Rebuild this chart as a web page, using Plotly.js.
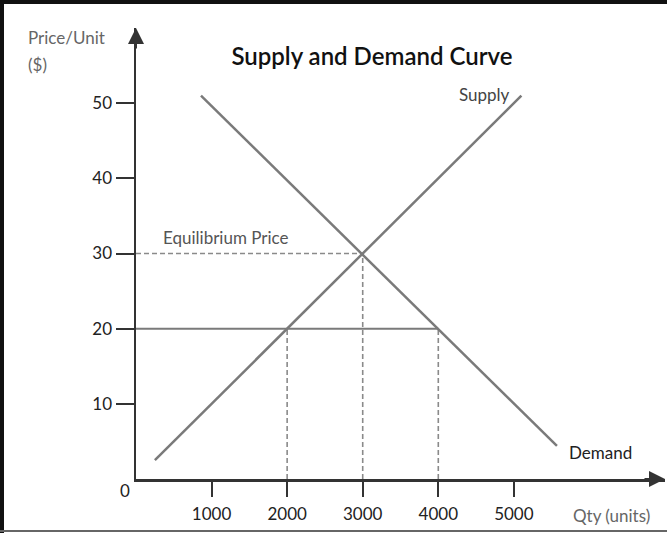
<!DOCTYPE html>
<html>
<head>
<meta charset="utf-8">
<script src="https://cdn.plot.ly/plotly-3.0.1.min.js"></script>
<style>
  html, body { margin: 0; padding: 0; background: #fff; }
  #wrap { position: relative; width: 667px; height: 533px; overflow: hidden; }
  #chart { width: 667px; height: 533px; }
  .edge { position: absolute; pointer-events: none; }
</style>
</head>
<body>
<div id="wrap">
  <div id="chart"></div>
  <div class="edge" style="left:0;top:0;width:667px;height:4px;background:#111;"></div>
  <div class="edge" style="left:0;top:0;width:4px;height:533px;background:#111;"></div>
  <div class="edge" style="left:0;top:530px;width:667px;height:2px;background:#666;"></div>
</div>
<script>
// ---- data ----
const supplyQty = [250, 5100];
const supplyPrice = [2.5, 51];
const demandQty = [860, 5570];
const demandPrice = [51, 4.4];
const eqQty = 3000;
const eqPrice = 30;
const lowPrice = 20;
const lowSupplyQty = 2000;
const lowDemandQty = 4000;
const xTicks = [1000, 2000, 3000, 4000, 5000];
const yTicks = [10, 20, 30, 40, 50];
const xMax = 7000;
const yMax = 60;

const lineGrey = '#7a7a7a';
const dashGrey = '#8a8a8a';
const axisCol = '#333';
const font = 'Lato, "Open Sans", sans-serif';

const traces = [
  // dashed guides
  { x: [0, eqQty], y: [eqPrice, eqPrice], mode: 'lines',
    line: { color: dashGrey, width: 1.6, dash: '5px,3px' }, hoverinfo: 'skip' },
  { x: [eqQty, eqQty], y: [0, eqPrice], mode: 'lines',
    line: { color: dashGrey, width: 1.6, dash: '5px,3px' }, hoverinfo: 'skip' },
  { x: [lowSupplyQty, lowSupplyQty], y: [0, lowPrice], mode: 'lines',
    line: { color: dashGrey, width: 1.6, dash: '5px,3px' }, hoverinfo: 'skip' },
  { x: [lowDemandQty, lowDemandQty], y: [0, lowPrice], mode: 'lines',
    line: { color: dashGrey, width: 1.6, dash: '5px,3px' }, hoverinfo: 'skip' },
  // solid price line at 20
  { x: [0, lowDemandQty], y: [lowPrice, lowPrice], mode: 'lines',
    line: { color: lineGrey, width: 2 }, hoverinfo: 'skip' },
  // supply and demand
  { x: supplyQty, y: supplyPrice, mode: 'lines', name: 'Supply',
    line: { color: lineGrey, width: 2.5 } },
  { x: demandQty, y: demandPrice, mode: 'lines', name: 'Demand',
    line: { color: lineGrey, width: 2.5 } }
];

const layout = {
  width: 667, height: 533,
  margin: { l: 136, r: 2, t: 28, b: 54 },
  paper_bgcolor: '#fff', plot_bgcolor: '#fff',
  showlegend: false,
  font: { family: font, size: 17, color: '#222' },
  title: {
    text: 'Supply and Demand Curve',
    font: { family: font, size: 24, color: '#111', weight: 600 },
    xref: 'paper', x: 0.446, xanchor: 'center',
    yref: 'container', y: 0.893, yanchor: 'middle'
  },
  xaxis: {
    range: [0, xMax], showgrid: false, zeroline: false,
    showline: true, linecolor: axisCol, linewidth: 2.5,
    tickmode: 'array', tickvals: xTicks, ticktext: xTicks.map(String),
    ticks: 'outside', ticklen: 15, tickwidth: 2, tickcolor: axisCol,
    ticklabelstandoff: 3,
    tickfont: { family: font, size: 17, color: '#222' },
    fixedrange: true
  },
  yaxis: {
    range: [0, yMax], showgrid: false, zeroline: false,
    showline: true, linecolor: axisCol, linewidth: 2.5,
    tickmode: 'array', tickvals: yTicks, ticktext: yTicks.map(String),
    ticks: 'outside', ticklen: 18, tickwidth: 2, tickcolor: axisCol,
    tickfont: { family: font, size: 17, color: '#222' },
    fixedrange: true
  },
  annotations: [
    // axis arrowheads
    { x: 0, y: yMax, xref: 'x', yref: 'y', ax: 0, ay: 22, text: '',
      showarrow: true, arrowhead: 2, arrowsize: 1.6, arrowwidth: 2, arrowcolor: axisCol },
    { x: xMax, y: 0, xref: 'x', yref: 'y', ax: -22, ay: 0, text: '',
      showarrow: true, arrowhead: 2, arrowsize: 1.6, arrowwidth: 2, arrowcolor: axisCol },
    // labels
    { x: 4605, y: 51.2, xref: 'x', yref: 'y', xanchor: 'center', yanchor: 'middle',
      text: 'Supply', showarrow: false, font: { family: font, size: 17, color: '#444' } },
    { x: 6140, y: 3.5, xref: 'x', yref: 'y', xanchor: 'center', yanchor: 'middle',
      text: 'Demand', showarrow: false, font: { family: font, size: 17, color: '#222' } },
    { x: 1190, y: 32.1, xref: 'x', yref: 'y', xanchor: 'center', yanchor: 'middle',
      text: 'Equilibrium Price', showarrow: false, font: { family: font, size: 17, color: '#555' } },
    { x: 0.898, y: -0.080, xref: 'paper', yref: 'paper', xanchor: 'center', yanchor: 'middle',
      text: 'Qty (units)', showarrow: false, font: { family: font, size: 17, color: '#666' } },
    { x: -0.0208, y: -0.0244, xref: 'paper', yref: 'paper', xanchor: 'center', yanchor: 'middle',
      text: '0', showarrow: false, font: { family: font, size: 17, color: '#222' } },
    { x: -0.208, y: 0.98, xref: 'paper', yref: 'paper', xanchor: 'left', yanchor: 'middle',
      text: 'Price/Unit', showarrow: false, font: { family: font, size: 17, color: '#666' } },
    { x: -0.208, y: 0.92, xref: 'paper', yref: 'paper', xanchor: 'left', yanchor: 'middle',
      text: '($)', showarrow: false, font: { family: font, size: 17, color: '#666' } }
  ]
};

Plotly.newPlot('chart', traces, layout, { displayModeBar: false, staticPlot: true });
</script>
</body>
</html>
